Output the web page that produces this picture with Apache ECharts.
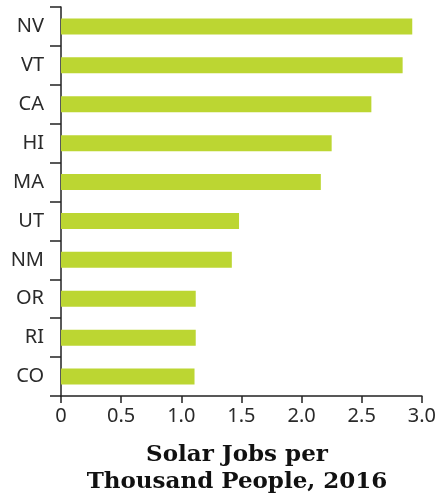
<!DOCTYPE html>
<html>
<head>
<meta charset="utf-8">
<script src="https://cdn.jsdelivr.net/npm/echarts@6/dist/echarts.min.js"></script>
<style>
  html, body { margin: 0; padding: 0; background: #fff; }
  #chart { width: 439px; height: 499px; }
</style>
</head>
<body>
<div id="chart"></div>
<script>
// states, top to bottom
const states = ['NV', 'VT', 'CA', 'HI', 'MA', 'UT', 'NM', 'OR', 'RI', 'CO']
// solar jobs per thousand people, 2016
const jobsPerThousand = [2.92, 2.84, 2.58, 2.25, 2.16, 1.48, 1.42, 1.12, 1.12, 1.11]
const xTicks = [0, 0.5, 1.0, 1.5, 2.0, 2.5, 3.0]
const titleLines = ['Solar Jobs per', 'Thousand People, 2016']

const labelFont = '"Noto Sans", sans-serif'

const option = {
  animation: false,
  grid: {
    left: 61,
    right: 15,
    top: 7,
    bottom: 103,
    containLabel: false
  },
  xAxis: {
    type: 'value',
    min: xTicks[0],
    max: xTicks[xTicks.length - 1],
    interval: 0.5,
    axisLine: { show: true, lineStyle: { color: '#222', width: 1.5 } },
    axisTick: { show: true, length: 7, lineStyle: { color: '#222', width: 1.5 } },
    splitLine: { show: false },
    axisLabel: {
      margin: 10,
      color: '#2a2a2a',
      fontSize: 20,
      fontFamily: labelFont,
      formatter: v => (v === 0 ? '0' : v.toFixed(1))
    }
  },
  yAxis: {
    type: 'category',
    data: states,
    inverse: true,
    axisLine: { show: true, lineStyle: { color: '#222', width: 1.5 } },
    axisTick: { show: true, length: 11, lineStyle: { color: '#222', width: 1.5 } },
    axisLabel: {
      margin: 17,
      color: '#2a2a2a',
      fontSize: 20,
      fontFamily: labelFont
    }
  },
  series: [
    {
      type: 'bar',
      data: jobsPerThousand,
      barWidth: 16,
      itemStyle: { color: '#bcd632' }
    }
  ],
  graphic: titleLines.map((line, i) => ({
    type: 'text',
    x: 237,
    y: 444 + i * 27,
    style: {
      text: line,
      fill: '#111',
      font: 'bold 23px "DejaVu Serif", serif',
      textAlign: 'center',
      textVerticalAlign: 'top'
    }
  }))
}

const myChart = echarts.init(document.getElementById('chart'))
myChart.setOption(option)
</script>
</body>
</html>
